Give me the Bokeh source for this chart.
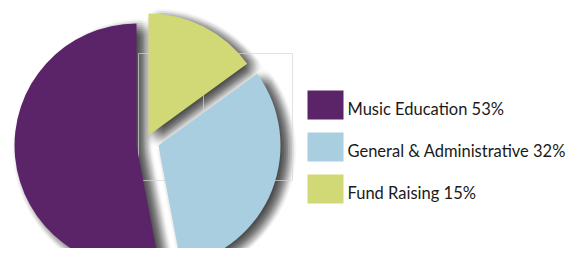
import math
from bokeh.plotting import figure
from bokeh.models import Range1d, ColumnDataSource
from bokeh.core.properties import value
from bokeh.embed import file_html
from bokeh.resources import INLINE

# ---- data ----
categories = ["Music Education", "General & Administrative", "Fund Raising"]
shares = [53, 32, 15]
colors = ["#5c2468", "#a8cee0", "#d0d975"]
legend_labels = [f"{c} {s}%" for c, s in zip(categories, shares)]

# ---- layout (page pixel coords, y measured downward) ----
W, H = 568, 248
def Y(py):
    return H - py

cx, cy, R = 136, 145, 122
# explode offsets per slice (page px)
explode_dx = [0, 22, 12]
explode_dy = [0, 0, -10]

p = figure(width=W, height=H, output_backend="svg", toolbar_location=None,
           x_range=Range1d(0, W), y_range=Range1d(0, H),
           min_border=0, outline_line_color=None)
p.axis.visible = False
p.grid.visible = False
p.background_fill_color = "white"
p.border_fill_color = "white"

# slice angles: start at 12 o'clock, anticlockwise
total = sum(shares)
starts, ends = [], []
a = math.pi / 2
for s in shares:
    e = a + 2 * math.pi * s / total
    starts.append(a)
    ends.append(e)
    a = e

xs = [cx + dx for dx in explode_dx]
ys = [Y(cy + dy) for dy in explode_dy]

# ---- soft shadow ----
sh = dict(x=[], y=[], s=[], e=[])
off = (7, 4)
steps = range(-9, 10, 2)
for i in range(3):
    for ox in steps:
        for oy in steps:
            if ox * ox + oy * oy > 85:
                continue
            sh["x"].append(xs[i] + off[0] + ox)
            sh["y"].append(ys[i] - off[1] - oy)
            sh["s"].append(starts[i])
            sh["e"].append(ends[i])
p.wedge(x="x", y="y", radius=R, start_angle="s", end_angle="e",
        source=ColumnDataSource(sh), fill_color="black", fill_alpha=0.014,
        line_color=None)

# faint guide lines behind slices
gx = [138, 203, 292]
gy = [53, 180]
p.segment(x0=gx, y0=[Y(53)] * 3, x1=gx, y1=[Y(180)] * 3,
          line_color="#d6d6d6", line_width=1, line_alpha=0.7)
p.segment(x0=[138] * 2, y0=[Y(v) for v in gy], x1=[292] * 2, y1=[Y(v) for v in gy],
          line_color="#d6d6d6", line_width=1, line_alpha=0.7)

# ---- slices ----
p.wedge(x=xs, y=ys, radius=R, start_angle=starts, end_angle=ends,
        fill_color=colors, line_color=None)

# ---- legend ----
sw_x = 325
sw_y = [104.5 + 42 * i for i in range(3)]
p.rect(x=[sw_x] * 3, y=[Y(v) for v in sw_y], width=36, height=29,
       fill_color=colors, line_color=None)
p.text(x=[347] * 3, y=[Y(v + 4.2) for v in sw_y], text=legend_labels,
       text_font=value("Lato"), text_font_size="16.5px", text_color="#1a1a1a",
       text_baseline="alphabetic", text_align="left")

open("out.html", "w").write(file_html(p, INLINE))
